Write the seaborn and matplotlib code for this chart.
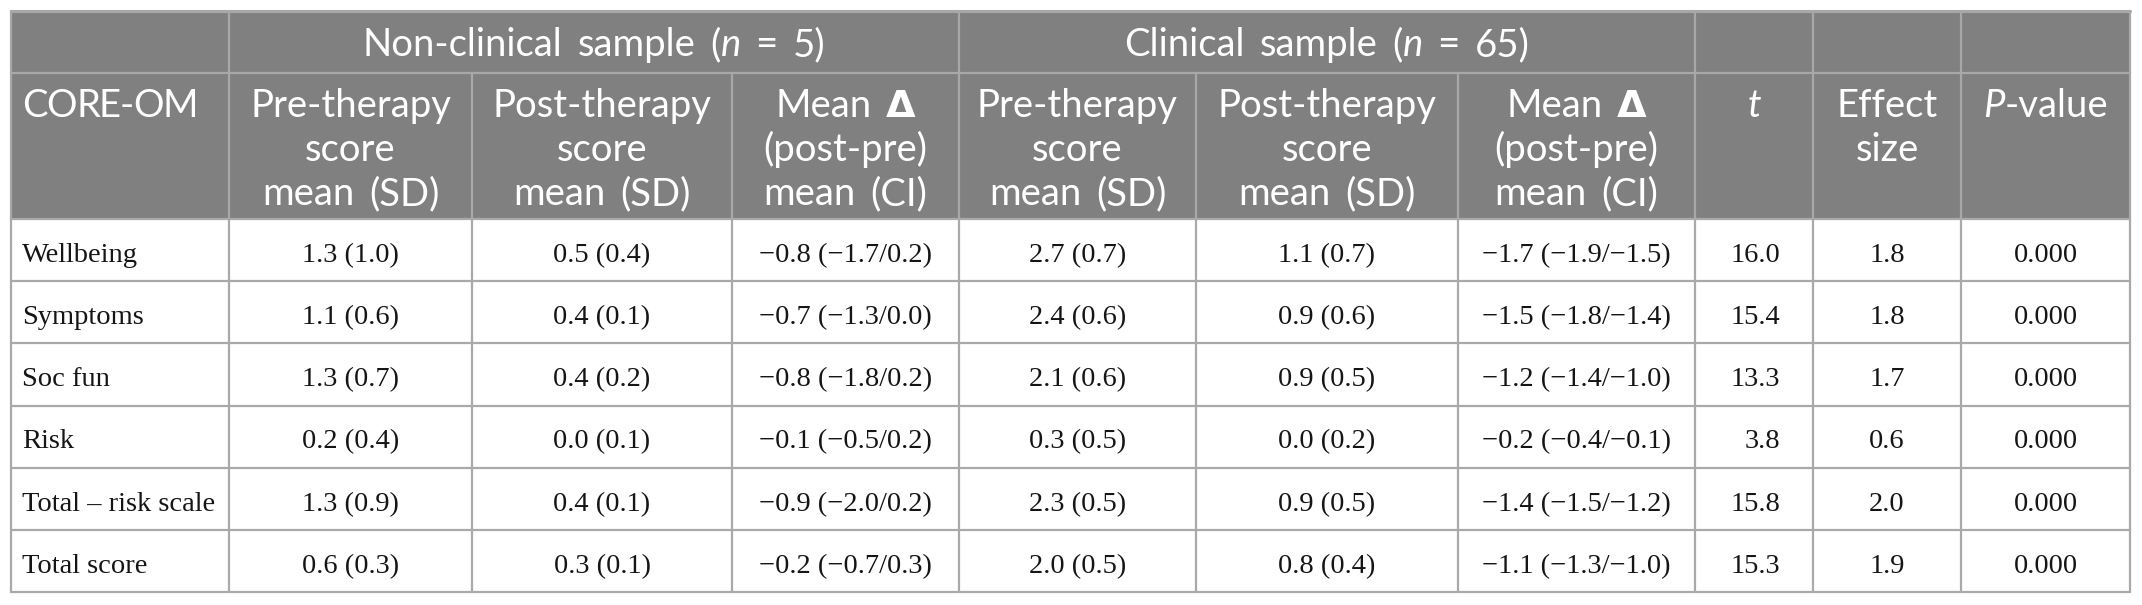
import matplotlib
matplotlib.use("Agg")
import matplotlib.pyplot as plt
import seaborn as sns
from matplotlib.patches import Rectangle

# ---------------- data ----------------
measures = ["Wellbeing", "Symptoms", "Soc fun", "Risk", "Total \u2013 risk scale", "Total score"]
nc_pre_mean = [1.3, 1.1, 1.3, 0.2, 1.3, 0.6]
nc_pre_sd = [1.0, 0.6, 0.7, 0.4, 0.9, 0.3]
nc_post_mean = [0.5, 0.4, 0.4, 0.0, 0.4, 0.3]
nc_post_sd = [0.4, 0.1, 0.2, 0.1, 0.1, 0.1]
nc_delta = [-0.8, -0.7, -0.8, -0.1, -0.9, -0.2]
nc_ci_lo = [-1.7, -1.3, -1.8, -0.5, -2.0, -0.7]
nc_ci_hi = [0.2, 0.0, 0.2, 0.2, 0.2, 0.3]
cl_pre_mean = [2.7, 2.4, 2.1, 0.3, 2.3, 2.0]
cl_pre_sd = [0.7, 0.6, 0.6, 0.5, 0.5, 0.5]
cl_post_mean = [1.1, 0.9, 0.9, 0.0, 0.9, 0.8]
cl_post_sd = [0.7, 0.6, 0.5, 0.2, 0.5, 0.4]
cl_delta = [-1.7, -1.5, -1.2, -0.2, -1.4, -1.1]
cl_ci_lo = [-1.9, -1.8, -1.4, -0.4, -1.5, -1.3]
cl_ci_hi = [-1.5, -1.4, -1.0, -0.1, -1.2, -1.0]
t_values = [16.0, 15.4, 13.3, 3.8, 15.8, 15.3]
effect_sizes = [1.8, 1.8, 1.7, 0.6, 2.0, 1.9]
p_values = [0.000, 0.000, 0.000, 0.000, 0.000, 0.000]

IT = {"style": "italic"}
BD = {"weight": "bold", "family": "DejaVu Sans"}
group_headers = [
    [("Non-clinical sample (", {}), ("n", IT), (" = 5)", {})],
    [("Clinical sample (", {}), ("n", IT), (" = 65)", {})],
]
col_headers = [
    [[("CORE-OM", {})]],
    [[("Pre-therapy", {})], [("score", {})], [("mean (SD)", {})]],
    [[("Post-therapy", {})], [("score", {})], [("mean (SD)", {})]],
    [[("Mean ", {}), ("\u0394", BD)], [("(post-pre)", {})], [("mean (CI)", {})]],
    [[("Pre-therapy", {})], [("score", {})], [("mean (SD)", {})]],
    [[("Post-therapy", {})], [("score", {})], [("mean (SD)", {})]],
    [[("Mean ", {}), ("\u0394", BD)], [("(post-pre)", {})], [("mean (CI)", {})]],
    [[("t", IT)]],
    [[("Effect", {})], [("size", {})]],
    [[("P", IT), ("-value", {})]],
]

# ---------------- style / layout ----------------
sns.set_theme(style="white")
HFONT = "Lato"
BFONT = "Liberation Serif"
plt.rcParams["font.family"] = ["Lato", "DejaVu Sans"]

W, H = 2142, 605
col_edges = [11, 229, 472, 732, 959, 1196, 1458, 1695, 1813, 1961, 2130]
y_top, y_h1, y_h2, y_bot = 11, 73, 219, 592
n_rows = len(measures)
row_h = (y_bot - y_h2) / n_rows

HEAD_BG = "#808080"
HEAD_LINE = "#a8a8a8"
BODY_LINE = "#a9a9a9"
TXT = "#151515"
HSIZE = 27.5
BSIZE = 20.5
LW = 1.6
SPACE_EXTRA = 5

fig = plt.figure(figsize=(W / 100, H / 100), dpi=100)
ax = fig.add_axes([0, 0, 1, 1])
ax.set_xlim(0, W)
ax.set_ylim(H, 0)
ax.axis("off")
renderer = fig.canvas.get_renderer()


def ink(s, size, props):
    t = ax.text(0, 0, s, fontsize=size, **props)
    w = t.get_window_extent(renderer).width
    t.remove()
    return w


def seg_width(s, size, props):
    if s == "":
        return 0.0
    return ink("x" + s + "x", size, props) - ink("xx", size, props)


def seg_layout(s, kw, size, tracking):
    props = {"family": HFONT}
    props.update(kw)
    pieces = []
    if tracking:
        unit_list = [(i, ch) for i, ch in enumerate(s) if ch != " "]
    else:
        unit_list = []
        start, buf = 0, ""
        for i, ch in enumerate(s):
            if ch == " ":
                if buf:
                    unit_list.append((start, buf))
                buf = ""
            else:
                if not buf:
                    start = i
                buf += ch
        if buf:
            unit_list.append((start, buf))
    for i, u in unit_list:
        pre = s[:i]
        pos = seg_width(pre, size, props) + SPACE_EXTRA * pre.count(" ") + tracking * i
        pieces.append((pos, u))
    total = seg_width(s, size, props) + SPACE_EXTRA * s.count(" ") + tracking * max(len(s) - 1, 0)
    return pieces, total, props


def rich(x, y, segs, size, color, ha="center", tracking=0.0):
    layouts = [seg_layout(s, kw, size, tracking) for s, kw in segs]
    total = sum(t for _, t, _ in layouts) + tracking * (len(segs) - 1)
    if ha == "center":
        x0 = x - total / 2
    else:
        x0 = x
    for pieces, tw, props in layouts:
        for pos, u in pieces:
            ax.text(x0 + pos, y, u, fontsize=size, color=color,
                    ha="left", va="baseline", **props)
        x0 += tw + tracking


# backgrounds
ax.add_patch(Rectangle((col_edges[0], y_top), col_edges[-1] - col_edges[0],
                       y_h2 - y_top, facecolor=HEAD_BG, edgecolor="none", zorder=0))
ax.add_patch(Rectangle((col_edges[0], y_h2), col_edges[-1] - col_edges[0],
                       y_bot - y_h2, facecolor="white", edgecolor="none", zorder=0))

# header lines
ax.plot([col_edges[0], col_edges[-1]], [y_top, y_top], color=HEAD_LINE, lw=LW * 1.4, zorder=2)
ax.plot([col_edges[0], col_edges[-1]], [y_h1, y_h1], color=HEAD_LINE, lw=LW, zorder=2)
h1_vlines = [col_edges[0], col_edges[1], col_edges[4], col_edges[7], col_edges[8],
             col_edges[9], col_edges[10]]
for x in h1_vlines:
    ax.plot([x, x], [y_top, y_h1], color=HEAD_LINE, lw=LW, zorder=2)
for x in col_edges:
    ax.plot([x, x], [y_h1, y_h2], color=HEAD_LINE, lw=LW, zorder=2)

# body lines
for i in range(n_rows + 1):
    y = y_h2 + i * row_h
    ax.plot([col_edges[0], col_edges[-1]], [y, y], color=BODY_LINE, lw=LW, zorder=2)
for x in col_edges:
    ax.plot([x, x], [y_h2, y_bot], color=BODY_LINE, lw=LW, zorder=2)

# group headers
rich((col_edges[1] + col_edges[4]) / 2, 56, group_headers[0], HSIZE, "white")
rich((col_edges[4] + col_edges[7]) / 2, 56, group_headers[1], HSIZE, "white")

# column headers
line_gap = 44
for j, lines in enumerate(col_headers):
    cx = (col_edges[j] + col_edges[j + 1]) / 2
    for k, segs in enumerate(lines):
        yb = 117 + k * line_gap
        if j == 0:
            rich(col_edges[0] + 11, yb, segs, HSIZE, "white", ha="left", tracking=-1.0)
        else:
            rich(cx, yb, segs, HSIZE, "white")


def f(v):
    s = f"{v:.1f}"
    return s.replace("-", "\u2212")


# body
for i in range(n_rows):
    yb = y_h2 + i * row_h + 43
    cells = [
        f"{f(nc_pre_mean[i])} ({f(nc_pre_sd[i])})",
        f"{f(nc_post_mean[i])} ({f(nc_post_sd[i])})",
        f"{f(nc_delta[i])} ({f(nc_ci_lo[i])}/{f(nc_ci_hi[i])})",
        f"{f(cl_pre_mean[i])} ({f(cl_pre_sd[i])})",
        f"{f(cl_post_mean[i])} ({f(cl_post_sd[i])})",
        f"{f(cl_delta[i])} ({f(cl_ci_lo[i])}/{f(cl_ci_hi[i])})",
    ]
    ax.text(col_edges[0] + 11, yb, measures[i], fontsize=BSIZE, family=BFONT,
            color=TXT, ha="left", va="baseline")
    for j, c in enumerate(cells):
        cx = (col_edges[j + 1] + col_edges[j + 2]) / 2
        ax.text(cx, yb, c, fontsize=BSIZE, family=BFONT, color=TXT,
                ha="center", va="baseline")
    ax.text(1780, yb, f(t_values[i]), fontsize=BSIZE, family=BFONT, color=TXT,
            ha="right", va="baseline")
    ax.text((col_edges[8] + col_edges[9]) / 2, yb, f(effect_sizes[i]), fontsize=BSIZE,
            family=BFONT, color=TXT, ha="center", va="baseline")
    ax.text((col_edges[9] + col_edges[10]) / 2, yb, f"{p_values[i]:.3f}", fontsize=BSIZE,
            family=BFONT, color=TXT, ha="center", va="baseline")

fig.savefig("out.png", dpi=100, facecolor="white")
